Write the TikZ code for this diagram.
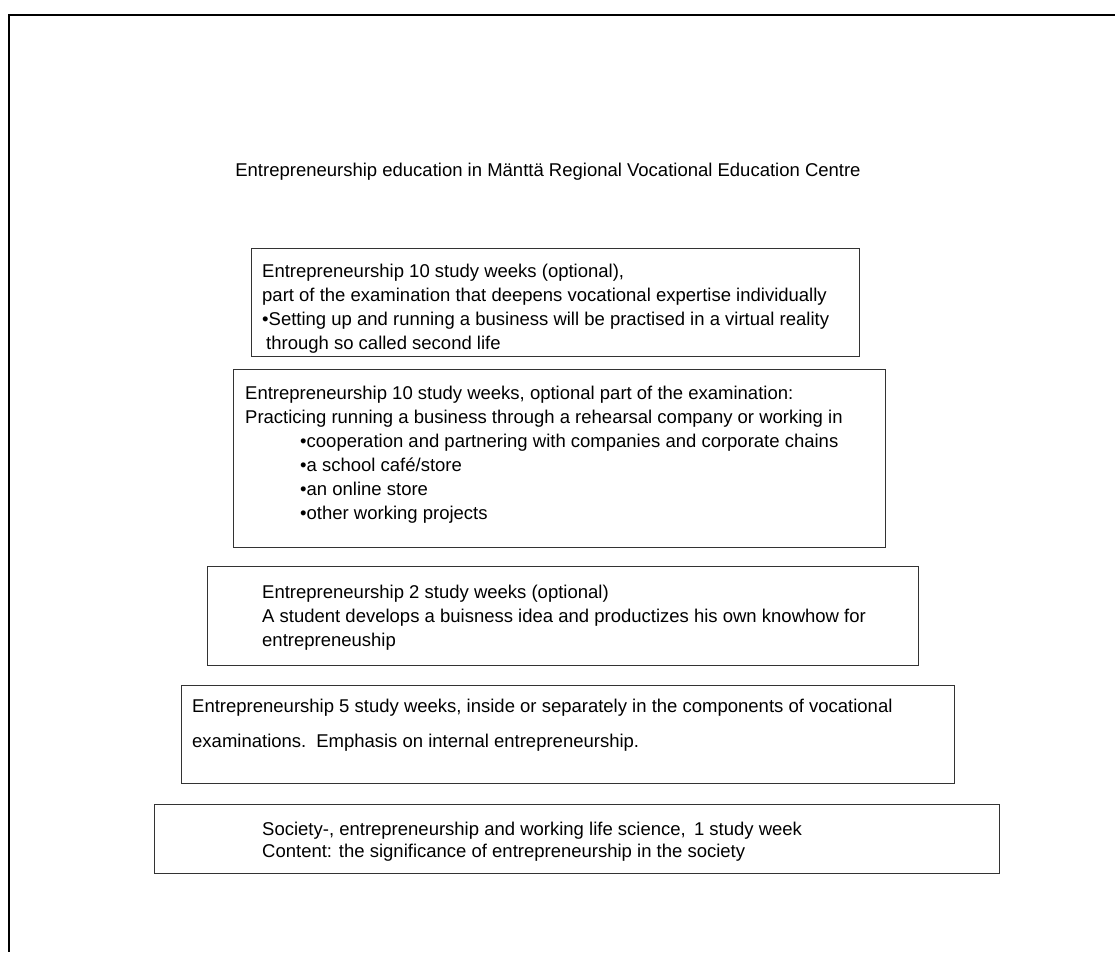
\documentclass[tikz,border=0pt]{standalone}
\usepackage{fontspec}
\setmainfont{Liberation Sans}

\tikzset{
  level/.style={draw=black!80, line width=1pt},
  entry/.style={anchor=base west, align=left, inner sep=0pt,
    font=\fontsize{18.5}{24}\selectfont},
}

\begin{document}
\begin{tikzpicture}[x=1pt, y=-1pt]
  \useasboundingbox (0,0) rectangle (1115,952);

  % Frame
  \draw[line width=2pt] (1115,15) -- (9,15) -- (9,952);

  % Title
  \node[entry, anchor=base] (title) at (548,176)
    {Entrepreneurship education in Mänttä Regional Vocational Education Centre};

  % Boxes, top to bottom
  \draw[level] (251,248) rectangle (859,356);
  \draw[level] (233,369) rectangle (885,547);
  \draw[level] (207,566) rectangle (918,665);
  \draw[level] (181,685) rectangle (954,783);
  \draw[level] (154,804) rectangle (999,873);

  % Texts (placed at the baseline of their last line)
  \node[entry] (secondlife) at (262,349)
    {Entrepreneurship 10 study weeks (optional),\\
     part of the examination that deepens vocational expertise individually\\
     •Setting up and running a business will be practised in a virtual reality\\
     \hspace*{4pt}through so called second life};
  \node[entry] (rehearsal) at (245,519)
    {Entrepreneurship 10 study weeks, optional part of the examination:\\
     Practicing running a business through a rehearsal company or working in\\
     \hspace*{55pt}•cooperation and partnering with companies and corporate chains\\
     \hspace*{55pt}•a school café/store\\
     \hspace*{55pt}•an online store\\
     \hspace*{55pt}•other working projects};
  \node[entry] (idea) at (262,646)
    {Entrepreneurship 2 study weeks (optional)\\
     A student develops a buisness idea and productizes his own knowhow for\\
     entrepreneuship};
  \node[entry, font=\fontsize{18.5}{35}\selectfont] (internal) at (192,747)
    {Entrepreneurship 5 study weeks, inside or separately in the components of vocational\\
     examinations. \,Emphasis on internal entrepreneurship.};
  \node[entry, font=\fontsize{18.5}{22}\selectfont] (society) at (262,857)
    {Society-, entrepreneurship and working life science, \,1 study week\\
     Content: the significance of entrepreneurship in the society};
\end{tikzpicture}
\end{document}
